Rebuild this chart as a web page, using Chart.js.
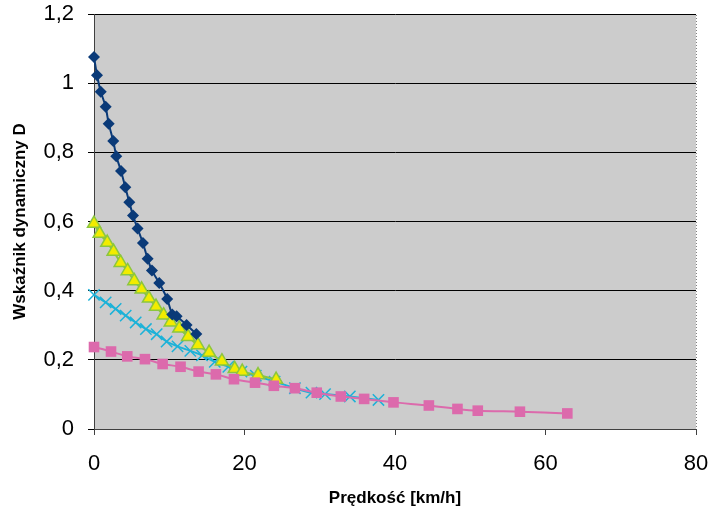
<!DOCTYPE html>
<html>
<head>
<meta charset="utf-8">
<script src="https://cdn.jsdelivr.net/npm/chart.js@4.4.0/dist/chart.umd.min.js"></script>
<style>
  html, body { margin: 0; padding: 0; background: #ffffff; }
  #wrap { width: 709px; height: 515px; }
</style>
</head>
<body>
<div id="wrap"><canvas id="chart" width="709" height="515"></canvas></div>
<script>
// values
const navyX = [0, 0.4, 0.9, 1.55, 1.95, 2.56, 2.96, 3.59, 4.16, 4.69, 5.18, 5.79, 6.5, 7.13, 7.7, 8.67, 9.73, 10.4, 10.98, 12.3, 13.6];
const navyY = [1.076, 1.023, 0.975, 0.932, 0.883, 0.833, 0.789, 0.746, 0.699, 0.656, 0.617, 0.580, 0.538, 0.492, 0.458, 0.422, 0.376, 0.331, 0.326, 0.301, 0.275];

const yellowX = [0, 0.75, 1.76, 2.6, 3.54, 4.47, 5.35, 6.33, 7.3, 8.24, 9.25, 10.2, 11.33, 12.5, 13.8, 15.3, 17.0, 18.7, 19.7, 21.8, 24.2];
const yellowY = [0.594, 0.565, 0.539, 0.513, 0.481, 0.457, 0.428, 0.404, 0.378, 0.354, 0.329, 0.309, 0.291, 0.267, 0.243, 0.221, 0.196, 0.174, 0.166, 0.156, 0.143];

const cyanX = [0, 1.55, 2.88, 4.21, 5.54, 6.9, 8.33, 9.65, 11.1, 12.8, 14.35, 16.05, 17.85, 19.6, 21.5, 24.0, 26.7, 28.9, 30.7, 34.0, 37.8];
const cyanY = [0.388, 0.366, 0.347, 0.328, 0.308, 0.289, 0.274, 0.253, 0.239, 0.226, 0.213, 0.194, 0.180, 0.166, 0.154, 0.137, 0.118, 0.105, 0.101, 0.094, 0.084];

const pinkX = [0, 2.26, 4.42, 6.77, 9.12, 11.5, 13.9, 16.2, 18.6, 21.4, 23.9, 26.7, 29.6, 32.8, 35.9, 39.8, 44.5, 48.3, 51.0, 56.6, 62.9];
const pinkY = [0.237, 0.224, 0.210, 0.202, 0.188, 0.180, 0.166, 0.158, 0.144, 0.134, 0.125, 0.118, 0.105, 0.094, 0.087, 0.077, 0.068, 0.058, 0.053, 0.050, 0.045];

const xTitle = 'Prędkość [km/h]';
const yTitle = 'Wskaźnik dynamiczny D';

const FONT = 'Liberation Sans, Arial, sans-serif';

function pts(xs, ys) {
    return xs.map((x, i) => ({ x: x, y: ys[i] }));
}

// gray plot area + dotted frame on top/right
const plotArea = {
    id: 'plotArea',
    beforeDraw(chart) {
        const { ctx, chartArea: a } = chart;
        ctx.save();
        ctx.fillStyle = '#cccccc';
        ctx.fillRect(a.left, a.top, a.right - a.left, a.bottom - a.top);
        ctx.strokeStyle = '#808080';
        ctx.lineWidth = 1;
        ctx.setLineDash([1, 2]);
        ctx.beginPath();
        ctx.moveTo(a.left, a.top + 0.5);
        ctx.lineTo(a.right + 0.5, a.top + 0.5);
        ctx.lineTo(a.right + 0.5, a.bottom);
        ctx.stroke();
        ctx.restore();
    }
};

const ctx = document.getElementById('chart').getContext('2d');
new Chart(ctx, {
    type: 'scatter',
    data: {
        datasets: [
            {
                data: pts(pinkX, pinkY),
                showLine: true,
                borderColor: '#dc6aac',
                backgroundColor: '#dc6aac',
                borderWidth: 2,
                tension: 0.25,
                pointStyle: 'rect',
                pointRadius: 7.5,
                pointBorderWidth: 0
            },
            {
                data: pts(navyX, navyY),
                showLine: true,
                borderColor: '#0a3a78',
                backgroundColor: '#0a3a78',
                borderWidth: 2,
                tension: 0.2,
                pointStyle: 'rectRot',
                pointRadius: 6,
                pointBorderWidth: 0
            },
            {
                data: pts(yellowX, yellowY),
                showLine: true,
                borderColor: '#8cc63e',
                backgroundColor: '#f2ec00',
                borderWidth: 2,
                tension: 0.2,
                pointStyle: 'triangle',
                pointRadius: 7.5,
                pointBorderWidth: 1.5,
                pointBorderColor: '#8cc63e'
            },
            {
                data: pts(cyanX, cyanY),
                showLine: true,
                borderColor: '#1cb2d8',
                backgroundColor: '#1cb2d8',
                borderWidth: 2,
                tension: 0.2,
                pointStyle: 'crossRot',
                pointRadius: 8,
                pointBorderWidth: 1.5
            }
        ]
    },
    options: {
        responsive: false,
        animation: false,
        clip: false,
        layout: { padding: { top: 14, right: 13, left: 0, bottom: 0 } },
        plugins: {
            legend: { display: false },
            tooltip: { enabled: false }
        },
        scales: {
            x: {
                type: 'linear',
                min: 0,
                max: 80,
                afterFit: (s) => { s.height = 86; s.paddingLeft = 0; s.paddingRight = 0; },
                ticks: {
                    stepSize: 20,
                    color: '#000000',
                    padding: 16,
                    font: { family: FONT, size: 22 }
                },
                grid: { drawOnChartArea: false, drawTicks: true, tickLength: 6, color: '#404040' },
                border: { color: '#404040', width: 1 },
                title: {
                    display: true,
                    text: xTitle,
                    color: '#000000',
                    padding: { top: 0, bottom: 6 },
                    font: { family: FONT, size: 17, weight: 'bold' }
                }
            },
            y: {
                type: 'linear',
                min: 0,
                max: 1.2,
                afterFit: (s) => { s.width = 94; s.paddingTop = 0; s.paddingBottom = 0; },
                ticks: {
                    stepSize: 0.2,
                    color: '#000000',
                    padding: 14,
                    font: { family: FONT, size: 22 },
                    callback: (v) => String(Number(v.toFixed(1))).replace('.', ',')
                },
                grid: { color: '#000000', lineWidth: 1, drawTicks: true, tickLength: 6 },
                border: { color: '#404040', width: 1 },
                title: {
                    display: true,
                    text: yTitle,
                    color: '#000000',
                    padding: { top: 10, bottom: 0 },
                    font: { family: FONT, size: 17, weight: 'bold' }
                }
            }
        }
    },
    plugins: [plotArea]
});
</script>
</body>
</html>
